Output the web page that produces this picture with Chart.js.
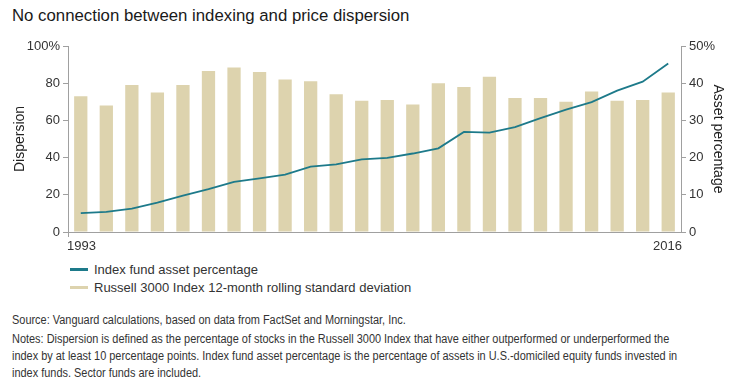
<!DOCTYPE html>
<html lang="en">
<head>
  <meta charset="UTF-8">
  <title>Indexing and price dispersion</title>
  <script src="https://cdn.jsdelivr.net/npm/chart.js"></script>
  <style>
    body { margin: 0; width: 745px; height: 392px; background: #fff; position: relative; overflow: hidden;
           font-family: "Liberation Sans", Arial, sans-serif; color: #222; }
    #title { position: absolute; left: 12px; top: 6px; font-size: 16.8px; color: #1a1a1a; white-space: nowrap; }
    #wrap { position: absolute; left: 0; top: 28px; width: 745px; height: 232px; }
    .leg { position: absolute; left: 70px; font-size: 13px; color: #333; white-space: nowrap; }
    .leg span { display: inline-block; width: 18px; height: 3px; vertical-align: middle; margin-right: 6px; position: relative; top: -1px; }
    .note { position: absolute; left: 12px; font-family: "Liberation Sans", Arial, sans-serif;
            font-size: 12.5px; color: #333; white-space: nowrap;
            transform: scaleX(0.875); transform-origin: 0 0; }
  </style>
</head>
<body>
  <div id="title">No connection between indexing and price dispersion</div>
  <div id="wrap"><canvas id="chart" width="745" height="232"></canvas></div>

  <div class="leg" style="top:262px"><span style="background:#1d7a8a"></span>Index fund asset percentage</div>
  <div class="leg" style="top:280px"><span style="background:#ddd3ae"></span>Russell 3000 Index 12-month rolling standard deviation</div>

  <div class="note" style="top:313px">Source: Vanguard calculations, based on data from FactSet and Morningstar, Inc.</div>
  <div class="note" style="top:332px">Notes: Dispersion is defined as the percentage of stocks in the Russell 3000 Index that have either outperformed or underperformed the</div>
  <div class="note" style="top:349px">index by at least 10 percentage points. Index fund asset percentage is the percentage of assets in U.S.-domiciled equity funds invested in</div>
  <div class="note" style="top:366px">index funds. Sector funds are included.</div>

  <script>
    // years 1993..2016
    const years = ['1993','1994','1995','1996','1997','1998','1999','2000','2001','2002','2003','2004',
                   '2005','2006','2007','2008','2009','2010','2011','2012','2013','2014','2015','2016'];
    // dispersion (left axis, %)
    const dispersion = [73, 68, 79, 75, 79, 86.5, 88.5, 86, 82, 81, 74, 70.5,
                        71, 68.5, 80, 78, 83.5, 72, 72, 70, 75.5, 70.5, 71, 75];
    // index fund asset percentage (right axis, %)
    const assetPct = [5.1, 5.4, 6.3, 7.9, 9.8, 11.5, 13.5, 14.4, 15.4, 17.6, 18.2, 19.5,
                      19.9, 21.1, 22.5, 26.9, 26.7, 28.2, 30.6, 32.9, 34.9, 38.0, 40.4, 45.3];
    const leftTicks = [0, 20, 40, 60, 80, 100];
    const rightTicks = [0, 10, 20, 30, 40, 50];

    const axisGrey = '#a0a0a0';
    const tickFont = { family: '"Liberation Sans", Arial, sans-serif', size: 13 };

    // first and last year only, flush with the ends of the axis
    const yearLabels = {
      id: 'yearLabels',
      afterDraw(chart) {
        const ctx = chart.ctx, a = chart.chartArea;
        ctx.save();
        ctx.font = '13px "Liberation Sans", Arial, sans-serif';
        ctx.fillStyle = '#333';
        ctx.textBaseline = 'middle';
        ctx.textAlign = 'left';
        ctx.fillText(years[0], a.left - 1, a.bottom + 14);
        ctx.textAlign = 'right';
        ctx.fillText(years[years.length - 1], a.right + 1, a.bottom + 14);
        // small tick under the left end
        ctx.strokeStyle = axisGrey;
        ctx.lineWidth = 1;
        ctx.beginPath();
        ctx.moveTo(a.left + 0.5, a.bottom);
        ctx.lineTo(a.left + 0.5, a.bottom + 5);
        ctx.stroke();
        ctx.restore();
      }
    };

    new Chart(document.getElementById('chart'), {
      data: {
        labels: years,
        datasets: [
          {
            type: 'line',
            label: 'Index fund asset percentage',
            data: assetPct,
            yAxisID: 'y1',
            borderColor: '#1d7a8a',
            borderWidth: 1.8,
            pointRadius: 0,
            tension: 0,
            order: 0
          },
          {
            type: 'bar',
            label: 'Russell 3000 Index 12-month rolling standard deviation',
            data: dispersion,
            yAxisID: 'y',
            backgroundColor: '#ddd3ae',
            barPercentage: 0.52,
            categoryPercentage: 1,
            order: 1
          }
        ]
      },
      options: {
        responsive: false,
        animation: false,
        devicePixelRatio: 1,
        layout: { padding: { top: 18, left: 0, right: 0, bottom: 0 } },
        plugins: { legend: { display: false }, tooltip: { enabled: false } },
        scales: {
          x: {
            offset: true,
            grid: { display: false },
            border: { color: axisGrey, width: 1 },
            ticks: { display: false },
            afterFit(s) { s.height = 28; }
          },
          y: {
            position: 'left',
            min: 0, max: 100,
            afterBuildTicks(s) { s.ticks = leftTicks.map(v => ({ value: v })); },
            ticks: {
              font: tickFont, color: '#333', padding: 3,
              callback: v => v === 100 ? '100%' : v
            },
            grid: { drawOnChartArea: false, drawTicks: true, tickLength: 5, color: axisGrey },
            border: { color: axisGrey, width: 1 },
            title: { display: true, text: 'Dispersion', color: '#222',
                     font: { family: '"Liberation Sans", Arial, sans-serif', size: 14 }, padding: { top: 12, bottom: 0 } },
            afterFit(s) { s.width = 68; }
          },
          y1: {
            position: 'right',
            min: 0, max: 50,
            afterBuildTicks(s) { s.ticks = rightTicks.map(v => ({ value: v })); },
            ticks: {
              font: tickFont, color: '#333', padding: 3,
              callback: v => v === 50 ? '50%' : v
            },
            grid: { drawOnChartArea: false, drawTicks: true, tickLength: 5, color: axisGrey },
            border: { color: axisGrey, width: 1 },
            title: { display: true, text: 'Asset percentage', color: '#222',
                     font: { family: '"Liberation Sans", Arial, sans-serif', size: 14 }, padding: { top: 19, bottom: 0 } },
            afterFit(s) { s.width = 64; }
          }
        }
      },
      plugins: [yearLabels]
    });
  </script>
</body>
</html>
